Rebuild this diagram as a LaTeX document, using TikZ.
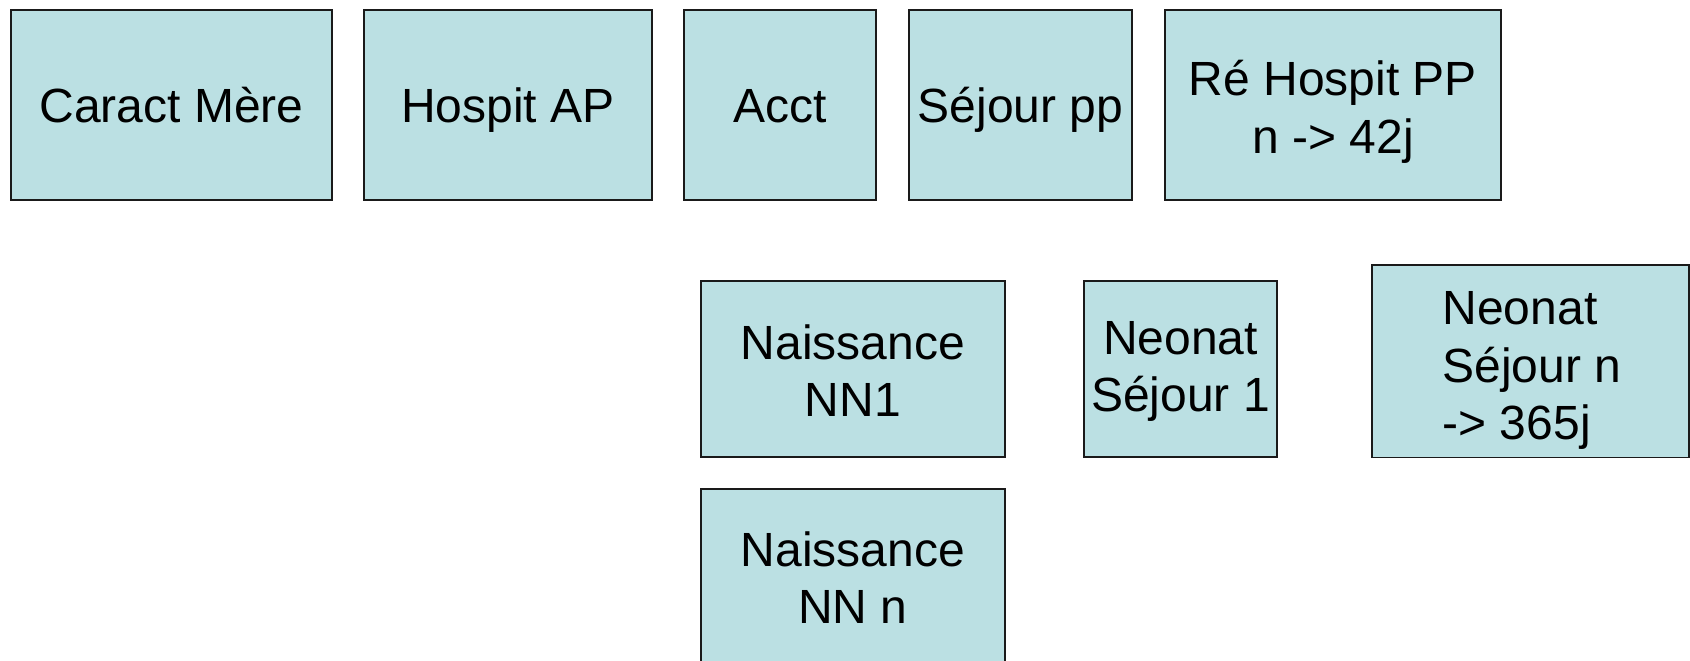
\documentclass[tikz,border=0pt]{standalone}
\usepackage{fontspec}
\setmainfont{Liberation Sans}
\definecolor{boxfill}{HTML}{BBE0E3}
\definecolor{boxline}{HTML}{1A1A1A}
% fixed top/bottom struts: caps centred on the box centre, shifted down by #1 pt
\newcommand{\capTop}[1]{\rule{0pt}{\dimexpr 52pt+#1pt*2\relax}}
\newcommand{\capBot}{\rule[-17.6pt]{0pt}{17.6pt}}
\begin{document}
\begin{tikzpicture}[x=1pt,y=-1pt,
  card/.style={draw=boxline, fill=boxfill, line width=1.6pt, inner sep=0pt,
    font=\fontsize{48}{57.5}\selectfont, align=center},
  cardl/.style={card, align=left}]
\useasboundingbox (0,0) rectangle (1690,661);
\begin{scope}
\clip (0,0) rectangle (1690,661);
\node[card, minimum width=321pt, minimum height=190pt] (cm) at (171.5,105) {\capTop{0.5}Caract Mère\capBot};
\node[card, minimum width=288pt, minimum height=190pt] (hap) at (508,105) {\capTop{0.5}Hospit AP\capBot};
\node[card, minimum width=192pt, minimum height=190pt] (acct) at (780,105) {\capTop{0.5}Acct\capBot};
\node[card, minimum width=223pt, minimum height=190pt] (sej) at (1020.5,105) {\capTop{0.5}Séjour pp\capBot};
\node[card, minimum width=336pt, minimum height=190pt] (reh) at (1333,105) {\capTop{2.5}Ré Hospit PP\\n -> 42j\capBot};
\node[card, minimum width=304pt, minimum height=176pt] (nn1) at (853,369) {\capTop{1.8}Naissance\\NN1\capBot};
\node[card, minimum width=193pt, minimum height=176pt] (ns1) at (1180.5,369) {\capTop{-3}Neonat\\Séjour 1\capBot};
\node[cardl, minimum width=317pt, minimum height=192pt] (nsn) at (1530.5,361) {\capTop{4}\hspace{3pt}Neonat\\\hspace{3pt}Séjour n\\\hspace{3pt}-> 365j\capBot};
\node[card, minimum width=304pt, minimum height=178pt] (nnn) at (853,578) {\capTop{0}Naissance\\NN n\capBot};
\end{scope}
\end{tikzpicture}
\end{document}
